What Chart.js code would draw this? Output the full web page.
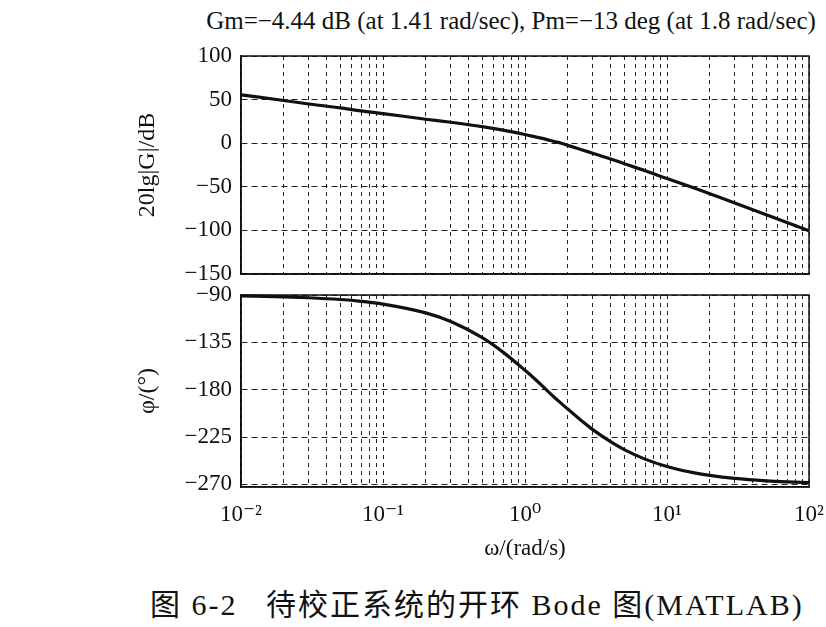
<!DOCTYPE html>
<html><head><meta charset="utf-8">
<script src="https://cdn.jsdelivr.net/npm/chart.js@4"></script>
<style>
html,body{margin:0;padding:0;background:#fff;}
body{width:826px;height:627px;overflow:hidden;position:relative;}
#title{position:absolute;left:0;width:1022px;top:7px;text-align:center;font:25px 'Liberation Serif','DejaVu Serif',serif;color:#111;white-space:pre;}
#cap{position:absolute;left:150px;top:589px;font:30px 'Liberation Serif','Noto Sans CJK SC',serif;letter-spacing:2px;color:#111;white-space:pre;line-height:32px;}
.w{position:absolute;left:0;width:826px;}
</style></head><body>
<div id="title"></div>
<div class="w" style="top:0;height:285px"><canvas id="c1"></canvas></div>
<div class="w" style="top:285px;height:290px"><canvas id="c2"></canvas></div>
<div id="cap"></div>
<script>
// ---- data ----
const freq     = [0.01, 0.02, 0.03, 0.05, 0.07, 0.1, 0.2, 0.3, 0.5, 0.7, 1, 1.2, 1.41, 1.6, 1.8, 2, 2.5, 3, 4, 5, 7, 10, 15, 20, 30, 50, 70, 100];
const magDb    = [55.5, 49, 45, 40.5, 37, 34, 27.5, 24, 19, 15, 10, 7, 4.4, 2, 0, -2.5, -7.5, -11.5, -18, -23.5, -31.5, -40.5, -50.5, -58, -68.5, -82, -91, -100.5];
const phaseDeg = [-90.9, -91.7, -92.6, -94.3, -96, -98.6, -107, -115.2, -130.6, -144.3, -161.6, -171, -180, -187, -193, -198.4, -209.5, -218, -229.4, -237, -246, -253, -258.6, -261.4, -264.3, -266.6, -267.6, -268.3];
const decades      = [0.01, 0.1, 1, 10, 100];
const decadeLabels = ['10⁻²', '10⁻¹', '10⁰', '10¹', '10²'];
const minorSteps   = [1, 2, 3, 4, 5, 6, 7, 8, 9];
const magTicks     = [-150, -100, -50, 0, 50, 100];
const phaseTicks   = [-270, -225, -180, -135, -90];
const titleText  = 'Gm=−4.44 dB (at 1.41 rad/sec), Pm=−13 deg (at 1.8 rad/sec)';
const captionText = '图 6-2   待校正系统的开环 Bode 图(MATLAB)';
const magLabel   = '20lg|G|/dB';
const phaseLabel = 'φ/(°)';
const freqLabel  = 'ω/(rad/s)';

document.getElementById('title').textContent = titleText;
document.getElementById('cap').textContent = captionText;

const serif = "'Liberation Serif','DejaVu Serif',serif";
const xTickVals = [];
decades.forEach(d => { if (d < 100) minorSteps.forEach(m => xTickVals.push(+(d*m).toPrecision(3))); });
xTickVals.push(100);

const boxPlugin = {
  id: 'box',
  afterDatasetsDraw(chart) {
    const a = chart.chartArea, ctx = chart.ctx;
    ctx.save(); ctx.strokeStyle = '#111'; ctx.lineWidth = 1.5;
    ctx.strokeRect(a.left, a.top, a.right - a.left, a.bottom - a.top);
    ctx.restore();
  }
};
const fmt = v => v < 0 ? '−' + Math.abs(v) : '' + v;
const noPad = s => { s.paddingLeft = 0; s.paddingRight = 0; s.paddingTop = 0; s.paddingBottom = 0; };

function xScale(showLabels) {
  return {
    type: 'logarithmic', min: 0.01, max: 100,
    afterBuildTicks: s => { s.ticks = xTickVals.map(v => ({value: v})); },
    afterFit: s => { s.height = showLabels ? 88 : 0; noPad(s); },
    grid: {color: '#222', lineWidth: 1, drawTicks: false},
    border: {display: true, color: '#111', width: 1.5, dash: [4, 4]},
    ticks: {
      display: showLabels, autoSkip: false, maxRotation: 0, minRotation: 0, padding: 14,
      color: '#111', font: {family: serif, size: 23},
      callback: v => { const i = decades.findIndex(d => Math.abs(Math.log10(d) - Math.log10(v)) < 1e-6); return i >= 0 ? decadeLabels[i] : ''; }
    },
    title: showLabels ? {display: true, text: freqLabel, color: '#111', font: {family: serif, size: 23}, padding: {top: 0, bottom: 12}} : {display: false}
  };
}
function yScale(min, max, tickArr, label) {
  return {
    type: 'linear', min, max,
    afterBuildTicks: s => { s.ticks = tickArr.map(v => ({value: v})); },
    afterFit: s => { s.width = 241; noPad(s); },
    grid: {color: '#222', lineWidth: 1, drawTicks: false},
    border: {display: true, color: '#111', width: 1.5, dash: [6, 4]},
    ticks: {padding: 9, color: '#111', font: {family: serif, size: 23}, callback: fmt},
    title: {display: true, text: label, color: '#111', font: {family: serif, size: 24}, padding: {top: 133, bottom: 0}}
  };
}
function ds(vals) {
  return [{data: freq.map((f, i) => ({x: f, y: vals[i]})), borderColor: '#111', borderWidth: 3.2,
           pointRadius: 0, cubicInterpolationMode: 'monotone', clip: false}];
}
const common = {responsive: true, maintainAspectRatio: false, animation: false, events: [],
  plugins: {legend: {display: false}, tooltip: {enabled: false}, title: {display: false}}};

new Chart(document.getElementById('c1'), {
  type: 'line', data: {datasets: ds(magDb)},
  options: Object.assign({}, common, {
    layout: {padding: {left: 0, right: 17, top: 56, bottom: 11}},
    scales: {x: xScale(false), y: yScale(-150, 100, magTicks, magLabel)}
  }),
  plugins: [boxPlugin]
});
new Chart(document.getElementById('c2'), {
  type: 'line', data: {datasets: ds(phaseDeg)},
  options: Object.assign({}, common, {
    layout: {padding: {left: 0, right: 17, top: 10, bottom: 0}},
    scales: {x: xScale(true), y: yScale(-272.5, -90, phaseTicks, phaseLabel)}
  }),
  plugins: [boxPlugin]
});
</script>
</body></html>
